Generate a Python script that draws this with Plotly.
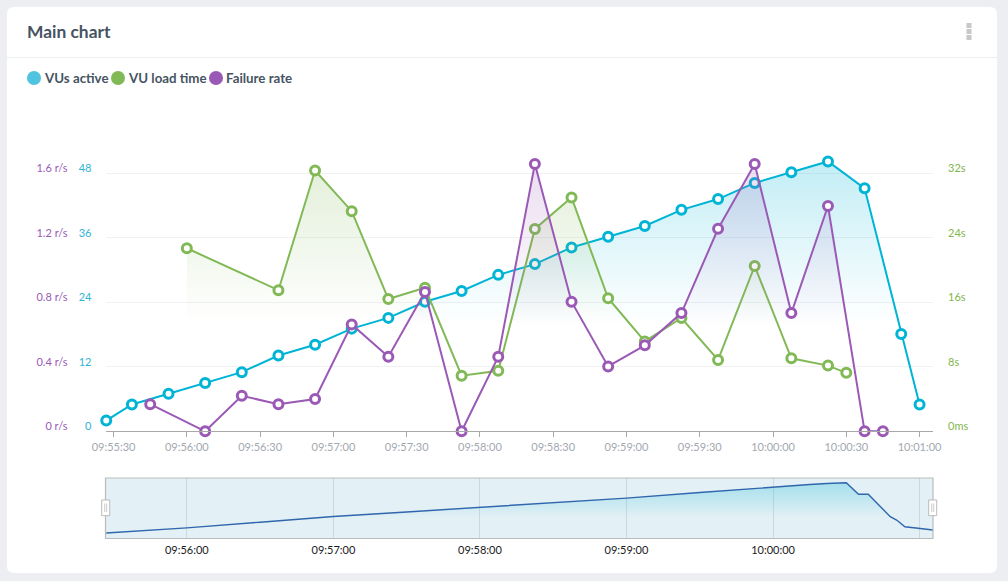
import plotly.graph_objects as go

DAY = "2019-01-01 "

def T(values):
    return [DAY + v for v in values]

vus_time = ["09:55:27", "09:55:37.5", "09:55:52.5", "09:56:07.5", "09:56:22.5", "09:56:37.5", "09:56:52.5",
            "09:57:07.5", "09:57:22.5", "09:57:37.5", "09:57:52.5", "09:58:07.5", "09:58:22.5", "09:58:37.5",
            "09:58:52.5", "09:59:07.5", "09:59:22.5", "09:59:37.5", "09:59:52.5", "10:00:07.5", "10:00:22.5",
            "10:00:37.5", "10:00:52.5", "10:01:00"]
vus_active = [2, 5, 7, 9, 11, 14.1, 16.1, 19.1, 21.1, 24.1, 26.1, 29.1, 31.1, 34.2, 36.2, 38.2, 41.2, 43.2, 46.2,
              48.2, 50.2, 45.2, 18.1, 5]

load_time_x = ["09:56:00", "09:56:37.5", "09:56:52.5", "09:57:07.5", "09:57:22.5", "09:57:37.5", "09:57:52.5",
               "09:58:07.5", "09:58:22.5", "09:58:37.5", "09:58:52.5", "09:59:07.5", "09:59:22.5", "09:59:37.5",
               "09:59:52.5", "10:00:07.5", "10:00:22.5", "10:00:30"]
load_time = [22.7, 17.5, 32.35, 27.3, 16.4, 17.8, 6.9, 7.5, 25.1, 29.0, 16.5, 11.15, 14.05, 8.85, 20.5, 9.05, 8.15,
             7.25]

failure_x = ["09:55:45", "09:56:07.5", "09:56:22.5", "09:56:37.5", "09:56:52.5", "09:57:07.5", "09:57:22.5",
             "09:57:37.5", "09:57:52.5", "09:58:07.5", "09:58:22.5", "09:58:37.5", "09:58:52.5", "09:59:07.5",
             "09:59:22.5", "09:59:37.5", "09:59:52.5", "10:00:07.5", "10:00:22.5", "10:00:37.5", "10:00:45"]
failure_rate = [0.168, 0, 0.22, 0.168, 0.2, 0.663, 0.462, 0.864, 0, 0.462, 1.658, 0.804, 0.402, 0.533, 0.733, 1.256,
                1.658, 0.733, 1.397, 0, 0]

nav_time = ["09:55:27", "09:56:00", "09:56:30", "09:57:00", "09:57:30", "09:58:00", "09:58:30", "09:59:00",
            "09:59:30", "10:00:00", "10:00:15", "10:00:22", "10:00:30", "10:00:35", "10:00:39", "10:00:44",
            "10:00:48", "10:00:50.6", "10:00:54", "10:00:59.4", "10:01:05.5"]
nav_vus = [1, 6, 11.5, 17, 21.5, 26, 30.5, 35, 40.5, 46, 48.2, 49.2, 50, 38.7, 38.7, 26.6, 16.9, 13.6, 7.1, 5.6, 3.9]

x_ticks = ["09:55:30", "09:56:00", "09:56:30", "09:57:00", "09:57:30", "09:58:00", "09:58:30", "09:59:00",
           "09:59:30", "10:00:00", "10:00:30", "10:01:00"]
nav_ticks = ["09:56:00", "09:57:00", "09:58:00", "09:59:00", "10:00:00", "10:01:00"]
nav_labels = ["09:56:00", "09:57:00", "09:58:00", "09:59:00", "10:00:00", ""]
vus_ticks = [0, 12, 24, 36, 48, 60.33]
vus_labels = ["0", "12", "24", "36", "48", ""]
load_ticks = [0, 8, 16, 24, 32]
load_labels = ["0ms", "8s", "16s", "24s", "32s"]
rate_ticks = [0, 0.4, 0.8, 1.2, 1.6]
rate_labels = ["0 r/s", "0.4 r/s", "0.8 r/s", "1.2 r/s", "1.6 r/s"]
legend_names = ["VUs active", "VU load time", "Failure rate"]

W, H = 1008, 581
CYAN, GREEN, PURPLE = "#00b4d6", "#82b957", "#9b59b6"
FONT = "Lato"
px = lambda x: x / W
py = lambda y: 1 - y / H
main_range = [DAY + "09:55:26.9", DAY + "10:01:05.5"]


def series(name, xs, ys, color, yaxis, rgb, top_alpha, start, stop):
    return go.Scatter(
        x=T(xs), y=ys, name=name, yaxis=yaxis, xaxis="x", mode="lines+markers",
        line=dict(color=color, width=2),
        marker=dict(size=9, color="white", line=dict(color=color, width=3)),
        cliponaxis=False, fill="tozeroy", showlegend=False,
        fillgradient=dict(type="vertical", start=start, stop=stop,
                          colorscale=[[0, f"rgba({rgb},0)"], [1, f"rgba({rgb},{top_alpha})"]]),
    )


fig = go.Figure()
fig.add_trace(series(legend_names[0], vus_time, vus_active, CYAN, "y", "0,180,214", 0.24, 19.6, max(vus_active)))
fig.add_trace(series(legend_names[1], load_time_x, load_time, GREEN, "y2", "130,185,87", 0.22, 13.1, max(load_time)))
fig.add_trace(series(legend_names[2], failure_x, failure_rate, PURPLE, "y3", "155,89,182", 0.2, 0.65, max(failure_rate)))
fig.add_trace(go.Scatter(
    x=T(nav_time), y=nav_vus, xaxis="x2", yaxis="y4", mode="lines", showlegend=False, name="Navigator",
    line=dict(color="#2f66ad", width=1.4), fill="tozeroy",
    fillgradient=dict(type="vertical", start=15, stop=50,
                      colorscale=[[0, "rgba(0,180,214,0)"], [1, "rgba(0,180,214,0.28)"]]),
))

tick_font = lambda c: dict(family=FONT, size=11, color=c)
main_dom = [py(431.3), py(107)]
fig.update_layout(
    width=W, height=H, margin=dict(l=0, r=0, t=0, b=0, autoexpand=False), autosize=False,
    paper_bgcolor="#eceef2", plot_bgcolor="rgba(0,0,0,0)", showlegend=False,
    font=dict(family=FONT),
    xaxis=dict(domain=[px(106), px(933)], anchor="y", type="date", range=main_range, tickmode="array",
               tickvals=T(x_ticks), tickformat="%H:%M:%S", ticks="outside", ticklen=5, tickcolor="#a8a8a8",
               showline=True, linecolor="#a8a8a8", linewidth=1, showgrid=False, zeroline=False,
               tickfont=tick_font("#a3a8b0")),
    xaxis2=dict(domain=[px(106), px(933)], anchor="y4", type="date", range=main_range, tickmode="array",
                tickvals=T(nav_ticks), ticktext=nav_labels, ticks="outside", ticklen=1,
                tickcolor="rgba(0,0,0,0)", showgrid=True, gridcolor="#cbd8de", gridwidth=1, zeroline=False,
                tickfont=tick_font("#1a1a1a")),
    yaxis=dict(domain=main_dom, range=[0, 60.33], anchor="free", position=px(91.5), side="left", tickmode="array",
               tickvals=vus_ticks, ticktext=vus_labels, ticklabelshift=-5, ticks="",
               showgrid=True, gridcolor="#f1f1f3", gridwidth=1, zeroline=False, showline=False,
               tickfont=tick_font("#2fb3d6")),
    yaxis2=dict(domain=main_dom, range=[0, 40.22], overlaying="y", anchor="free", position=px(947), side="right",
                tickmode="array", tickvals=load_ticks, ticktext=load_labels, ticklabelshift=-5,
                ticks="", showgrid=False, zeroline=False, showline=False, tickfont=tick_font("#7fb650")),
    yaxis3=dict(domain=main_dom, range=[0, 2.011], overlaying="y", anchor="free", position=px(67.5), side="left",
                tickmode="array", tickvals=rate_ticks, ticktext=rate_labels, ticklabelshift=-5,
                ticks="", showgrid=False, zeroline=False, showline=False, tickfont=tick_font("#9b59b6")),
    yaxis4=dict(domain=[py(538.5), py(478)], range=[-4.4, 54.6], anchor="x2", showgrid=False, zeroline=False,
                showticklabels=False, ticks=""),
)

# card, header and navigator furniture
card = (f"M {px(14)},{py(7)} L {px(990)},{py(7)} Q {px(997)},{py(7)} {px(997)},{py(14)} "
        f"L {px(997)},{py(566)} Q {px(997)},{py(573)} {px(990)},{py(573)} L {px(14)},{py(573)} "
        f"Q {px(7)},{py(573)} {px(7)},{py(566)} L {px(7)},{py(14)} Q {px(7)},{py(7)} {px(14)},{py(7)} Z")
shapes = [
    dict(type="path", path=card, xref="paper", yref="paper", fillcolor="white", line=dict(width=0), layer="below"),
    dict(type="line", xref="paper", yref="paper", x0=px(7), x1=px(997), y0=py(57.5), y1=py(57.5),
         line=dict(color="#eceef0", width=1), layer="below"),
    dict(type="rect", xref="paper", yref="paper", x0=px(105.5), x1=px(933), y0=py(538.5), y1=py(478),
         fillcolor="#e3f0f5", line=dict(width=0), layer="below"),
    dict(type="rect", xref="paper", yref="paper", x0=px(105.5), x1=px(933), y0=py(538.5), y1=py(478),
         fillcolor="rgba(0,0,0,0)", line=dict(color="#bbbbbb", width=1.2), layer="above"),
]
for y0 in (23, 29, 35):
    shapes.append(dict(type="rect", xref="paper", yref="paper", x0=px(966.5), x1=px(971.5), y0=py(y0 + 5), y1=py(y0),
                       fillcolor="#c8c8c8", line=dict(width=0), layer="above"))
for cx in (105.7, 932.7):
    shapes.append(dict(type="rect", xref="paper", yref="paper", x0=px(cx - 4), x1=px(cx + 4), y0=py(515.7), y1=py(500),
                       fillcolor="white", line=dict(color="#bbbbbb", width=1), layer="above"))
    for dx in (-1, 1):
        shapes.append(dict(type="line", xref="paper", yref="paper", x0=px(cx + dx), x1=px(cx + dx), y0=py(512), y1=py(503.5),
                           line=dict(color="#bbbbbb", width=0.8), layer="above"))
legend_dots = [(34, "#4fc3df"), (118, "#82b957"), (216, "#9b59b6")]
for cx, c in legend_dots:
    shapes.append(dict(type="circle", xref="paper", yref="paper", x0=px(cx - 7), x1=px(cx + 7), y0=py(85), y1=py(71),
                       fillcolor=c, line=dict(width=0), layer="above"))
fig.update_layout(shapes=shapes)

TEXT = "#465462"
annotations = [dict(text="<b>Main chart</b>", x=px(25), y=py(31.5), xref="paper", yref="paper", xanchor="left",
                    yanchor="middle", showarrow=False, font=dict(family=FONT, size=17.4, color=TEXT))]
for name, lx in zip(legend_names, (41.5, 125.5, 224)):
    annotations.append(dict(text=f"<b>{name}</b>", x=px(lx), y=py(78), xref="paper", yref="paper", xanchor="left",
                            yanchor="middle", showarrow=False, font=dict(family=FONT, size=13.3, color=TEXT)))
fig.update_layout(annotations=annotations)

fig.write_html("out.html", config=dict(displayModeBar=False), post_script="document.body.style.margin='0';")
